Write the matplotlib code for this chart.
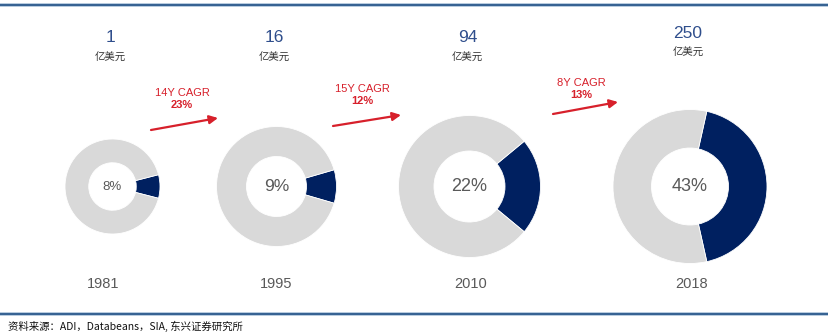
import matplotlib.pyplot as plt
from matplotlib.patches import FancyArrowPatch

plt.rcParams['font.family'] = ['Liberation Sans', 'Noto Sans CJK SC', 'DejaVu Sans']

# Market data
years = ['1981', '1995', '2010', '2018']
market_size = ['1', '16', '94', '250']      # 亿美元
share = [8, 9, 22, 43]                      # %
cagr_labels = ['14Y CAGR', '15Y CAGR', '8Y CAGR']
cagr_values = ['23%', '12%', '13%']

W, H = 829, 333

# Layout in pixels (measured from the top-left corner)
centers_x = [112.5, 276.5, 469.5, 690]
center_y = 186.5
radii = [47.5, 60, 71, 77]
pct_sizes = [9.5, 12.5, 13, 13]
size_y = [37, 37, 37, 34]
unit_y = [58, 58, 58, 53]
year_x = [103, 276, 471, 692]
arrows = [((151, 130), (218, 118)), ((333, 126), (401, 115)), ((553, 114), (618, 102))]
cagr_pos = [(182, 93), (362, 89), (581, 83)]

navy = '#002060'
grey = '#D9D9D9'
red = '#D7202B'
blue = '#2F4E8C'

fig = plt.figure(figsize=(W / 100, H / 100), dpi=100)
ax = fig.add_axes([0, 0, 1, 1])


def Y(y):
    # convert pixel row to data y
    return H - y


for i in range(len(years)):
    s = share[i]
    ax.pie([s, 100 - s], colors=[navy, grey], startangle=-s * 3.6 / 2,
           center=(centers_x[i], Y(center_y)), radius=radii[i], frame=True,
           wedgeprops=dict(width=radii[i] * 0.5, edgecolor='white', linewidth=0.6))
    ax.text(centers_x[i], Y(center_y), f'{s}%', ha='center', va='center',
            fontsize=pct_sizes[i], color='#595959')
    ax.text(centers_x[i] - 2, Y(size_y[i]), market_size[i], ha='center', va='center',
            fontsize=12.5, color=blue)
    ax.text(centers_x[i] - 2, Y(unit_y[i]), '亿美元', ha='center', va='center',
            fontsize=7.5, color='#333333', family=['Noto Sans CJK SC', 'DejaVu Sans'])
    ax.text(year_x[i], Y(284), years[i], ha='center', va='center',
            fontsize=10.5, color='#595959')

for (p0, p1), (tx, ty), lab, val in zip(arrows, cagr_pos, cagr_labels, cagr_values):
    arr = FancyArrowPatch((p0[0], Y(p0[1])), (p1[0], Y(p1[1])),
                          arrowstyle='-|>,head_length=5,head_width=2.5',
                          color=red, linewidth=1.6, shrinkA=0, shrinkB=0)
    ax.add_patch(arr)
    ax.text(tx, Y(ty), lab, ha='center', va='center', fontsize=8, color=red)
    ax.text(tx, Y(ty + 12), val, ha='center', va='center', fontsize=8,
            color=red, fontweight='bold')

# Frame lines at top and bottom
for yy in (5, 314):
    ax.plot([0, W], [Y(yy), Y(yy)], color='#A9C0D8', linewidth=2.6, solid_capstyle='butt')
    ax.plot([0, W], [Y(yy), Y(yy)], color='#2B5A8C', linewidth=1.3, solid_capstyle='butt')

ax.text(8, Y(326), '资料来源：ADI，Databeans，SIA, 东兴证券研究所', ha='left', va='center',
        fontsize=7.5, color='#111111', family=['Noto Sans CJK SC', 'DejaVu Sans'])

ax.set_xlim(0, W)
ax.set_ylim(0, H)
ax.set_aspect('auto')
ax.axis('off')

fig.savefig('out.png', dpi=100)
